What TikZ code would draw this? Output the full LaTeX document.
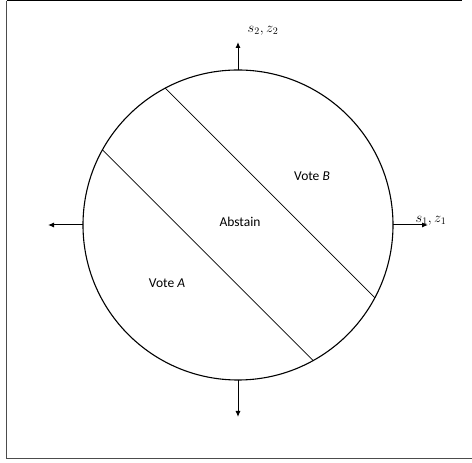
\documentclass[tikz,border=0pt]{standalone}
\usepackage{fontspec}
\setmainfont{Carlito}
\usetikzlibrary{arrows.meta}
\tikzset{
  axisarrow/.style={line width=1pt,-{Latex[length=6pt,width=5pt]}},
  chord/.style={line width=0.7pt},
  region/.style={font=\fontsize{13.5}{15}\selectfont, inner sep=0pt},
  axlabel/.style={font=\fontsize{14.5}{16}\selectfont, inner sep=0pt}
}
\begin{document}
\begin{tikzpicture}[x=1pt,y=1pt]
\useasboundingbox (0,0) rectangle (472,463);
% frame
\draw[line width=1.2pt, black!70] (6.5,462) -- (6.5,4.5) -- (472,4.5);
\draw[line width=1pt] (6.5,462) -- (462,462);
% circle
\node[circle, draw, line width=1.1pt, minimum size=310pt, inner sep=0pt, outer sep=0pt] (c) at (238,238) {};
% chords
\draw[chord] (c.118.3) -- (c.-28.3);
\draw[chord] (c.151.7) -- (c.-61.7);
% axes
\coordinate (up) at (238,421);
\coordinate (right) at (428,238);
\coordinate (left) at (48,238);
\coordinate (down) at (238,46);
\draw[axisarrow] (c.north) -- (up);
\draw[axisarrow] (c.east) -- (right);
\draw[axisarrow] (c.west) -- (left);
\draw[axisarrow] (c.south) -- (down);
% labels
\node[axlabel] (l2) at (263,432) {$s_2, z_2$};
\node[axlabel] (l1) at (431,242) {$s_1, z_1$};
\node[region] (vb) at (312,287) {Vote \textit{B}};
\node[region] (ab) at (240,241) {Abstain};
\node[region] (va) at (167,180) {Vote \textit{A}};
\end{tikzpicture}
\end{document}
